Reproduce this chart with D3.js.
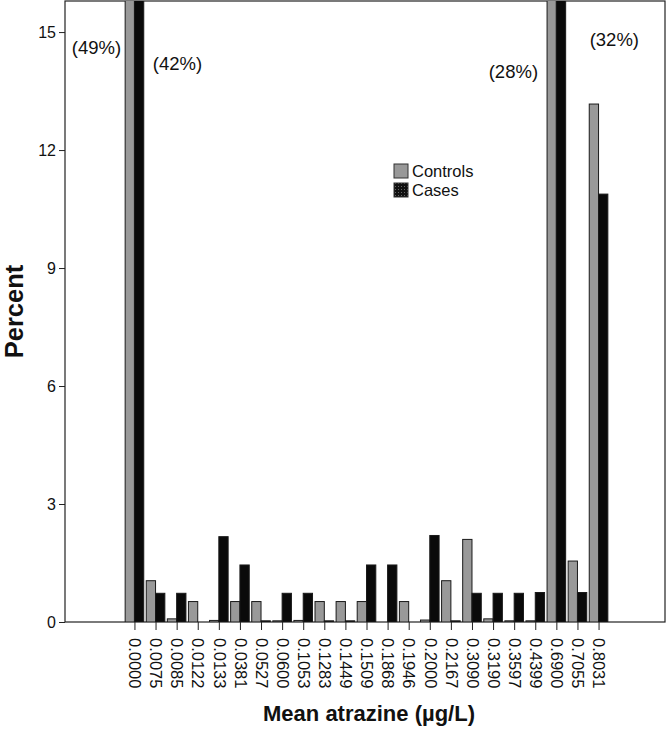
<!DOCTYPE html>
<html>
<head>
<meta charset="utf-8">
<script src="https://cdn.jsdelivr.net/npm/d3@7"></script>
<style>
  body { margin: 0; background: #fff; }
  svg { font-family: "Liberation Sans", Arial, sans-serif; }
</style>
</head>
<body>
<svg width="668" height="729"></svg>
<script>
const categories = ["0.0000", "0.0075", "0.0085", "0.0122", "0.0133", "0.0381", "0.0527", "0.0600",
  "0.1053", "0.1283", "0.1449", "0.1509", "0.1868", "0.1946", "0.2000", "0.2167", "0.3090",
  "0.3190", "0.3597", "0.4399", "0.6900", "0.7055", "0.8031"];
const controls = [49, 1.05, 0.08, 0.52, 0.04, 0.52, 0.52, 0.03, 0.04, 0.52, 0.52, 0.52, 0,
  0.52, 0.05, 1.05, 2.1, 0.08, 0.03, 0.03, 28, 1.55, 13.17];
const cases = [42, 0.73, 0.73, 0, 2.17, 1.45, 0.03, 0.73, 0.73, 0.03, 0.03, 1.45, 1.45,
  0, 2.2, 0.03, 0.73, 0.73, 0.73, 0.75, 32, 0.75, 10.88];
const series = ["Controls", "Cases"];
const yTicks = [0, 3, 6, 9, 12, 15];
const notes = [
  { name: "0.0000", text: "(49%)", side: "left", value: 14.6, gap: 4 },
  { name: "0.0000", text: "(42%)", side: "right", value: 14.2, gap: 9 },
  { name: "0.6900", text: "(28%)", side: "left", value: 14.0, gap: 9 },
  { name: "0.6900", text: "(32%)", side: "right", value: 14.8, gap: 24 }
];

const width = 668;
const margin = { top: 1, right: 3, bottom: 107, left: 65 };
const height = 729;

const data = categories.map((c, i) => ({ name: c, Controls: controls[i], Cases: cases[i] }));

const x = d3.scalePoint()
  .domain(categories)
  .range([margin.left + 3, width - margin.right])
  .padding(3.15);

const x1 = d3.scaleBand()
  .domain(series)
  .range([-9.3, 9.3])
  .padding(0);

const y = d3.scaleLinear()
  .domain([0, 15.79])
  .range([height - margin.bottom, margin.top]);

const color = { Controls: "#999999", Cases: "#0a0a0a" };

const svg = d3.select("svg");

const defs = svg.append("defs");
defs.append("clipPath").attr("id", "clip")
  .append("rect")
  .attr("x", margin.left)
  .attr("y", margin.top)
  .attr("width", width - margin.right - margin.left)
  .attr("height", y(0) - margin.top);

const pat = defs.append("pattern").attr("id", "dots")
  .attr("width", 3).attr("height", 3)
  .attr("patternUnits", "userSpaceOnUse");
pat.append("rect").attr("width", 3).attr("height", 3).attr("fill", "#111");
pat.append("rect").attr("x", 1).attr("y", 1).attr("width", 1).attr("height", 1).attr("fill", "#666");

// frame
svg.append("rect")
  .attr("x", margin.left)
  .attr("y", margin.top)
  .attr("width", width - margin.right - margin.left)
  .attr("height", y(0) - margin.top)
  .attr("fill", "none")
  .attr("stroke", "#222")
  .attr("stroke-width", 1.2);

// bars
const groups = svg.append("g")
  .attr("clip-path", "url(#clip)")
  .selectAll("g")
  .data(data)
  .join("g")
  .attr("transform", (d) => `translate(${x(d.name)},0)`);

groups.selectAll("rect")
  .data((d) => series.map((s) => ({ key: s, value: d[s] })).filter((d) => d.value > 0))
  .join("rect")
  .attr("x", (d) => x1(d.key))
  .attr("y", (d) => y(d.value))
  .attr("width", x1.bandwidth())
  .attr("height", (d) => y(0) - y(d.value))
  .attr("fill", (d) => color[d.key])
  .attr("stroke", "#1a1a1a")
  .attr("stroke-width", 1);

// y axis
const yAxis = svg.append("g")
  .attr("transform", `translate(${margin.left},0)`)
  .call(d3.axisLeft(y).tickValues(yTicks).tickSize(6).tickPadding(3).tickFormat(d3.format("d")));
yAxis.select(".domain").remove();
yAxis.selectAll("line").attr("stroke", "#222");
yAxis.selectAll("text").attr("font-size", 16).attr("fill", "#111")
  .attr("font-family", "Liberation Sans, Arial, sans-serif");

// x axis
const xAxis = svg.append("g")
  .attr("transform", `translate(0,${y(0)})`)
  .call(d3.axisBottom(x).tickSize(8).tickPadding(0));
xAxis.select(".domain").remove();
xAxis.selectAll("line").attr("stroke", "#222");
xAxis.selectAll("text")
  .attr("font-size", 16.5)
  .attr("fill", "#111")
  .attr("font-family", "Liberation Sans, Arial, sans-serif")
  .attr("text-anchor", "start")
  .attr("transform", "translate(0,16) rotate(90)")
  .attr("x", 0)
  .attr("y", 0)
  .attr("dy", "0.35em");

// notes over clipped bars
svg.append("g")
  .selectAll("text")
  .data(notes)
  .join("text")
  .attr("x", (d) => d.side === "left" ? x(d.name) + x1("Controls") - d.gap
    : x(d.name) + x1("Cases") + x1.bandwidth() + d.gap)
  .attr("y", (d) => y(d.value))
  .attr("dy", "0.35em")
  .attr("text-anchor", (d) => d.side === "left" ? "end" : "start")
  .attr("font-size", 18.5)
  .attr("fill", "#111")
  .text((d) => d.text);

// legend
const legend = svg.append("g").attr("transform", "translate(394,164)");
series.forEach((s, i) => {
  legend.append("rect")
    .attr("x", 0)
    .attr("y", i * 19)
    .attr("width", 14)
    .attr("height", 14)
    .attr("fill", s === "Cases" ? "url(#dots)" : color[s])
    .attr("stroke", "#333")
    .attr("stroke-width", 1);
  legend.append("text")
    .attr("x", 18)
    .attr("y", i * 19 + 7)
    .attr("dy", "0.35em")
    .attr("font-size", 16.5)
    .attr("fill", "#111")
    .text(s);
});

// axis titles
svg.append("text")
  .attr("transform", `translate(14,${(margin.top + y(0)) / 2}) rotate(-90)`)
  .attr("text-anchor", "middle")
  .attr("dy", "0.35em")
  .attr("font-size", 25.5)
  .attr("font-weight", "bold")
  .attr("fill", "#111")
  .text("Percent");

svg.append("text")
  .attr("x", 369)
  .attr("y", 721)
  .attr("text-anchor", "middle")
  .attr("font-size", 22)
  .attr("font-weight", "bold")
  .attr("fill", "#111")
  .text("Mean atrazine (µg/L)");
</script>
</body>
</html>
